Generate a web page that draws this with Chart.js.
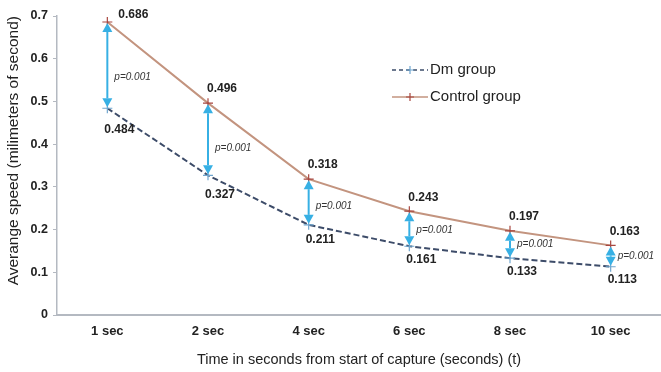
<!DOCTYPE html>
<html>
<head>
<meta charset="utf-8">
<script src="https://cdn.jsdelivr.net/npm/chart.js@4.4.1/dist/chart.umd.min.js"></script>
<style>
  html, body { margin: 0; padding: 0; background: #ffffff; }
  #wrap { width: 661px; height: 372px; position: relative; }
</style>
</head>
<body>
<div id="wrap"><canvas id="chart"></canvas></div>
<script>
// Average speed over time for the two groups
const categories = ['1 sec', '2 sec', '4 sec', '6 sec', '8 sec', '10 sec'];
const dmGroup = [0.484, 0.327, 0.211, 0.161, 0.133, 0.113];
const controlGroup = [0.686, 0.496, 0.318, 0.243, 0.197, 0.163];
const pValues = ['p=0.001', 'p=0.001', 'p=0.001', 'p=0.001', 'p=0.001', 'p=0.001'];
const yTicks = [0, 0.1, 0.2, 0.3, 0.4, 0.5, 0.6, 0.7];

const DM_COLOR = '#3d4c69';
const DM_POINT = '#6fa6cf';
const CTRL_COLOR = '#c3947f';
const CTRL_POINT = '#a8463f';
const ARROW_COLOR = '#37b0e4';
const TEXT = '#222222';
const FONT = '"Liberation Sans", Arial, sans-serif';

// Value labels, significance arrows and the legend
const annotations = {
  id: 'annotations',
  afterDatasetsDraw(chart) {
    const ctx = chart.ctx;
    const xs = chart.scales.x, ys = chart.scales.y;
    const area = chart.chartArea;
    ctx.save();

    // double-headed arrows between the two groups
    categories.forEach((c, i) => {
      const x = xs.getPixelForValue(i);
      const yTop = ys.getPixelForValue(controlGroup[i]) + 1;
      const yBot = ys.getPixelForValue(dmGroup[i]) - 1;
      const head = 9, hw = 5;
      ctx.strokeStyle = ARROW_COLOR;
      ctx.fillStyle = ARROW_COLOR;
      ctx.lineWidth = 2;
      ctx.beginPath();
      ctx.moveTo(x, yTop + head);
      ctx.lineTo(x, yBot - head);
      ctx.stroke();
      ctx.beginPath();
      ctx.moveTo(x, yTop);
      ctx.lineTo(x - hw, yTop + head);
      ctx.lineTo(x + hw, yTop + head);
      ctx.closePath();
      ctx.fill();
      ctx.beginPath();
      ctx.moveTo(x, yBot);
      ctx.lineTo(x - hw, yBot - head);
      ctx.lineTo(x + hw, yBot - head);
      ctx.closePath();
      ctx.fill();

      // p-value beside the arrow
      const gap = yBot - yTop;
      const py = (yTop + yBot) / 2 + Math.max(0, gap - 25) * 0.2;
      ctx.font = 'italic 10px ' + FONT;
      ctx.fillStyle = '#333333';
      ctx.textAlign = 'left';
      ctx.textBaseline = 'middle';
      ctx.fillText(pValues[i], x + 7, py);
    });

    // value labels; lower labels drop further below steep segments
    ctx.font = 'bold 12px ' + FONT;
    ctx.fillStyle = TEXT;
    ctx.textAlign = 'left';
    ctx.textBaseline = 'middle';
    const last = categories.length - 1;
    categories.forEach((c, i) => {
      const x = xs.getPixelForValue(i);
      const yc = ys.getPixelForValue(controlGroup[i]);
      let lx = x - 1, ly = yc - 14;
      if (ly < area.top + 2) { lx = x + 11; ly = yc - 7; }
      ctx.fillText(controlGroup[i].toFixed(3), lx, ly);
      const yd = ys.getPixelForValue(dmGroup[i]);
      const a = i === last ? i - 1 : i, b = a + 1;
      const steep = Math.abs(ys.getPixelForValue(dmGroup[b]) - ys.getPixelForValue(dmGroup[a]));
      ctx.fillText(dmGroup[i].toFixed(3), x - 3, yd + 12 + steep * 0.14);
    });

    // legend
    const lx0 = area.left + 335, lx1 = lx0 + 36;
    const rows = [
      { label: 'Dm group', color: DM_COLOR, point: DM_POINT, dash: [4, 3], y: 70 },
      { label: 'Control group', color: CTRL_COLOR, point: CTRL_POINT, dash: [], y: 97 }
    ];
    rows.forEach(r => {
      ctx.strokeStyle = r.color;
      ctx.lineWidth = 1.6;
      ctx.setLineDash(r.dash);
      ctx.beginPath();
      ctx.moveTo(lx0, r.y);
      ctx.lineTo(lx1, r.y);
      ctx.stroke();
      ctx.setLineDash([]);
      const cx = (lx0 + lx1) / 2;
      ctx.strokeStyle = r.point;
      ctx.lineWidth = 1.2;
      ctx.beginPath();
      ctx.moveTo(cx - 4, r.y); ctx.lineTo(cx + 4, r.y);
      ctx.moveTo(cx, r.y - 4); ctx.lineTo(cx, r.y + 4);
      ctx.stroke();
      ctx.font = '15px ' + FONT;
      ctx.fillStyle = TEXT;
      ctx.textAlign = 'left';
      ctx.textBaseline = 'middle';
      ctx.fillText(r.label, lx1 + 2, r.y);
    });
    ctx.restore();
  }
};

new Chart(document.getElementById('chart'), {
  type: 'line',
  data: {
    labels: categories,
    datasets: [
      {
        label: 'Control group',
        data: controlGroup,
        borderColor: CTRL_COLOR,
        borderWidth: 2,
        pointStyle: 'cross',
        pointRadius: 5,
        pointBorderColor: CTRL_POINT,
        pointBorderWidth: 1.2,
        tension: 0
      },
      {
        label: 'Dm group',
        data: dmGroup,
        borderColor: DM_COLOR,
        borderWidth: 2,
        borderDash: [6, 3],
        pointStyle: 'cross',
        pointRadius: 5,
        pointBorderColor: DM_POINT,
        pointBorderWidth: 1.2,
        tension: 0
      }
    ]
  },
  options: {
    responsive: true,
    maintainAspectRatio: false,
    animation: false,
    layout: { autoPadding: false, padding: { top: 16, right: 0, left: 0, bottom: 0 } },
    plugins: {
      legend: { display: false },
      tooltip: { enabled: false }
    },
    scales: {
      x: {
        type: 'category',
        offset: true,
        grid: { display: false, drawTicks: false },
        border: { display: true, color: '#b4b9c1', width: 2 },
        ticks: {
          color: TEXT,
          padding: 9,
          font: { family: FONT, size: 13, weight: 'bold' }
        },
        title: {
          display: true,
          text: 'Time in seconds from start of capture (seconds) (t)',
          color: TEXT,
          padding: { top: 0, bottom: 3 },
          font: { family: FONT, size: 14.5 }
        },
        afterFit(scale) {
          scale.height = 57;
          scale.paddingLeft = 0;
          scale.paddingRight = 0;
        }
      },
      y: {
        min: 0,
        max: 0.7,
        grid: { display: true, drawOnChartArea: false, tickLength: 4, color: '#b4b9c1' },
        border: { display: true, color: '#b4b9c1', width: 1.5 },
        afterBuildTicks(scale) { scale.ticks = yTicks.map(v => ({ value: v })); },
        ticks: {
          color: TEXT,
          padding: 5,
          font: { family: FONT, size: 12.5, weight: 'bold' },
          callback: v => String(v)
        },
        title: {
          display: true,
          text: 'Averange speed (milimeters of second)',
          color: TEXT,
          align: 'end',
          padding: { top: 4, bottom: 0 },
          font: { family: FONT, size: 15.5 }
        },
        afterFit(scale) { scale.width = 57; }
      }
    }
  },
  plugins: [annotations]
});
</script>
</body>
</html>
